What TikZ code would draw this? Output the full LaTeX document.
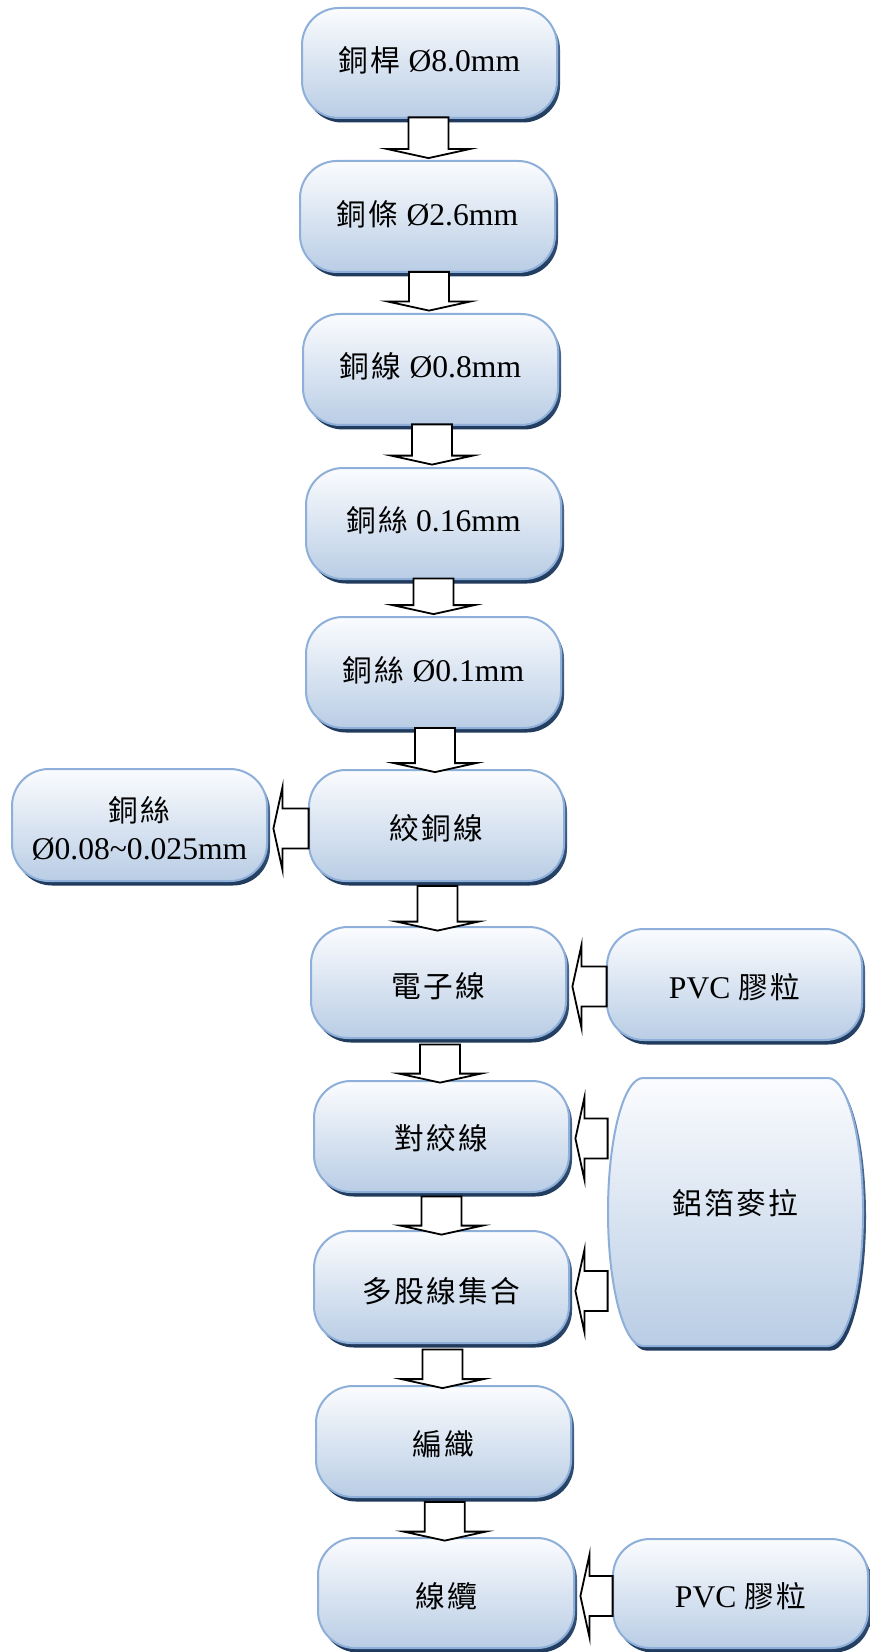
\documentclass[tikz,border=0pt]{standalone}
\usepackage{fontspec}
\setmainfont{Liberation Serif}
\newfontfamily\zh{Noto Sans CJK TC}[Scale=0.94,LetterSpace=8]
\usetikzlibrary{calc}

\definecolor{boxtop}{HTML}{FBFCFE}
\definecolor{boxbot}{HTML}{B9CDE5}
\definecolor{boxline}{HTML}{8EAFD9}
\definecolor{shadetop}{HTML}{5C7BA4}
\definecolor{shadebot}{HTML}{1F3A5C}

\tikzset{
  blockarrow/.style={draw=black, fill=white, line width=0.9pt, line join=miter},
  boxtext/.style={inner sep=0pt, font=\fontsize{15.8}{19}\selectfont, align=center},
  boxfill/.style={top color=boxtop, bottom color=boxbot, draw=boxline, line width=1pt},
  boxshadow/.style={top color=shadetop, bottom color=shadebot, shift={(3,4.5)}},
}

% rounded box: name, left, top, right, bottom (px, y downwards),
% corner x-radius, corner y-radius, text shift, text
\newcommand\capbox[9]{%
  \pgfmathsetmacro\bxL{#2}\pgfmathsetmacro\bxT{#3}%
  \pgfmathsetmacro\bxR{#4}\pgfmathsetmacro\bxB{#5}%
  \pgfmathsetmacro\bxr{#6}\pgfmathsetmacro\bxry{#7}%
  \pgfmathsetmacro\bxM{(\bxT+\bxB)/2}%
  \pgfmathsetmacro\bxkx{0.4477*\bxr}\pgfmathsetmacro\bxky{0.4477*\bxry}%
  \pgfmathsetmacro\bxW{(\bxR-\bxL)*0.5}\pgfmathsetmacro\bxH{(\bxB-\bxT)*0.5}%
  \def\bxpath{({\bxL+\bxr},\bxT) -- ({\bxR-\bxr},\bxT)
    .. controls ({\bxR-\bxkx},\bxT) and (\bxR,{\bxT+\bxky}) .. (\bxR,{\bxT+\bxry})
    -- (\bxR,{\bxB-\bxry})
    .. controls (\bxR,{\bxB-\bxky}) and ({\bxR-\bxkx},\bxB) .. ({\bxR-\bxr},\bxB)
    -- ({\bxL+\bxr},\bxB)
    .. controls ({\bxL+\bxkx},\bxB) and (\bxL,{\bxB-\bxky}) .. (\bxL,{\bxB-\bxry})
    -- (\bxL,{\bxT+\bxry})
    .. controls (\bxL,{\bxT+\bxky}) and ({\bxL+\bxkx},\bxT) .. cycle}%
  \shade[boxshadow] \bxpath;
  \shadedraw[boxfill] \bxpath;
  \node[boxtext, minimum width=\bxW pt, minimum height=\bxH pt] (#1)
    at ({(\bxL+\bxR)/2},{\bxM+#8}) {#9};
}

% hollow block arrow pointing down from one box to the next
\newcommand\flowdown[2]{%
  \path[blockarrow] let \p1=(#1.south), \p2=(#2.north) in
    ({0.5*(\x1+\x2)-10pt},{\y1-1pt}) -- ({0.5*(\x1+\x2)+10pt},{\y1-1pt})
    -- ({0.5*(\x1+\x2)+10pt},{\y2+4.5pt}) -- ({0.5*(\x1+\x2)+20.5pt},{\y2+4.5pt})
    -- ({0.5*(\x1+\x2)},{\y2}) -- ({0.5*(\x1+\x2)-20.5pt},{\y2+4.5pt})
    -- ({0.5*(\x1+\x2)-10pt},{\y2+4.5pt}) -- cycle;
}

% hollow block arrow pointing left from a side box into a main box
\newcommand\flowleft[2]{%
  \path[blockarrow] let \p1=(#1.west), \p2=(#2.east) in
    (\x1,{\y2+10pt}) -- ({\x2+7.5pt},{\y2+10pt}) -- ({\x2+7.5pt},{\y2+20.5pt})
    -- ({\x2+3pt},{\y2}) -- ({\x2+7.5pt},{\y2-20.5pt}) -- ({\x2+7.5pt},{\y2-10pt})
    -- (\x1,{\y2-10pt}) -- cycle;
}

\begin{document}
\begin{tikzpicture}[x=0.5pt,y=-0.5pt]
\fill[white] (0,0) rectangle (870,1652);
\useasboundingbox (0,0) rectangle (870,1652);

% main process column
\capbox{n1}{302}{8}{557}{118}{37}{37}{-3}{{\zh 銅桿} Ø8.0mm}
\capbox{n2}{300}{161}{555}{272}{37}{37}{-2.5}{{\zh 銅條} Ø2.6mm}
\capbox{n3}{303}{314}{558}{425}{37}{37}{-3}{{\zh 銅線} Ø0.8mm}
\capbox{n4}{306}{468}{561}{579}{37}{37}{-3}{{\zh 銅絲} 0.16mm}
\capbox{n5}{306}{617}{561}{728}{37}{37}{-2.5}{{\zh 銅絲} Ø0.1mm}
\capbox{n6}{309}{770}{564}{881}{37}{37}{2.5}{{\zh 絞銅線}}
\capbox{n7}{311}{927}{566}{1038}{37}{37}{4}{{\zh 電子線}}
\capbox{n8}{314}{1081}{569}{1192}{37}{37}{2}{{\zh 對絞線}}
\capbox{n9}{314}{1231}{569}{1343}{37}{37}{4}{{\zh 多股線集合}}
\capbox{n10}{316}{1386}{571}{1497}{37}{37}{2.5}{{\zh 編織}}
\capbox{n11}{318}{1538}{574}{1648}{37}{37}{3}{{\zh 線纜}}

% side inputs and outputs
\capbox{wire}{12}{769}{267}{881}{37}{37}{3.5}{{\zh 銅絲}\\Ø0.08\textasciitilde0.025mm}
\capbox{pvcA}{607}{929}{862}{1040}{37}{37}{2.5}{PVC {\zh 膠粒}}
\capbox{mylar}{608}{1078}{863}{1346}{35}{134}{-9}{{\zh 鋁箔麥拉}}
\capbox{pvcB}{613}{1539}{868}{1648}{37}{37}{2.5}{PVC {\zh 膠粒}}

% flow
\flowdown{n1}{n2}
\flowdown{n2}{n3}
\flowdown{n3}{n4}
\flowdown{n4}{n5}
\flowdown{n5}{n6}
\flowdown{n6}{n7}
\flowdown{n7}{n8}
\flowdown{n8}{n9}
\flowdown{n9}{n10}
\flowdown{n10}{n11}
\flowleft{n6}{wire}
\flowleft{pvcA}{n7}
\flowleft{mylar}{n8}
\flowleft{mylar}{n9}
\flowleft{pvcB}{n11}
\end{tikzpicture}
\end{document}
